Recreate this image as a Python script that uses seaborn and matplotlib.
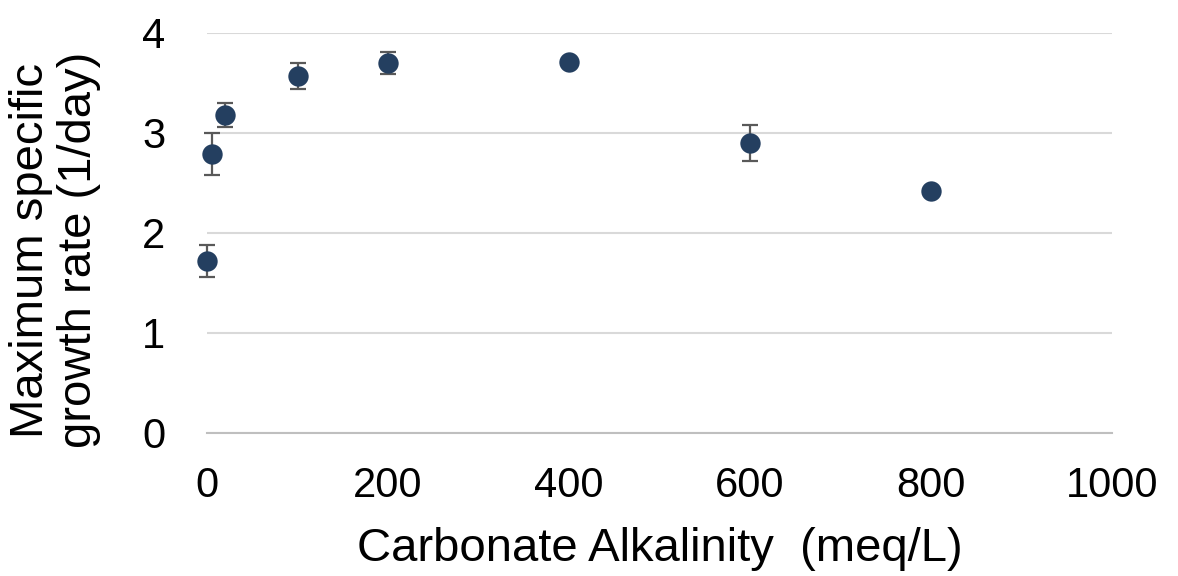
import matplotlib
matplotlib.use("Agg")
import matplotlib.pyplot as plt
import seaborn as sns
import pandas as pd

# Data
alkalinity = [0, 5, 20, 100, 200, 400, 600, 800]
growth_rate = [1.72, 2.79, 3.18, 3.57, 3.70, 3.71, 2.90, 2.42]
growth_err = [0.16, 0.21, 0.12, 0.13, 0.11, 0.0, 0.18, 0.0]
x_ticks = [0, 200, 400, 600, 800, 1000]
y_ticks = [0, 1, 2, 3, 4]
x_label = "Carbonate Alkalinity  (meq/L)"
y_label = "Maximum specific\ngrowth rate (1/day)"

df = pd.DataFrame({"x": alkalinity, "y": growth_rate, "err": growth_err})

sns.set_theme(style="white")
plt.rcParams["font.family"] = ["Liberation Sans", "DejaVu Sans"]
plt.rcParams["text.color"] = "black"

fig = plt.figure(figsize=(11.78, 5.76), dpi=100)
ax = fig.add_axes([207 / 1178, 1 - 433 / 576, (1112 - 207) / 1178, 400 / 576])

# error bars
ax.errorbar(df["x"], df["y"], yerr=df["err"], fmt="none", ecolor="#595959",
            elinewidth=1.6, capsize=5.5, capthick=1.6, zorder=2, clip_on=False)

sns.scatterplot(data=df, x="x", y="y", ax=ax, s=215, color="#243F60",
                edgecolor="#243F60", linewidth=0, zorder=3, clip_on=False)

ax.set_xlim(0, 1000)
ax.set_ylim(0, 4)
ax.set_xticks(x_ticks)
ax.set_yticks(y_ticks)
ax.set_xticklabels([str(t) for t in x_ticks])
ax.set_yticklabels([str(t) for t in y_ticks])
ax.tick_params(axis="both", length=0, labelsize=30, colors="black",
               labelcolor="black")
ax.tick_params(axis="x", pad=24)
ax.tick_params(axis="y", pad=30)

ax.yaxis.grid(True, color="#d9d9d9", linewidth=1.5)
ax.xaxis.grid(False)
ax.set_axisbelow(True)
for s in ["top", "right", "left"]:
    ax.spines[s].set_visible(False)
ax.spines["bottom"].set_color("#bfbfbf")
ax.spines["bottom"].set_linewidth(1.5)

ax.set_xlabel("")
ax.set_ylabel("")
fig.text(660 / 1178, 1 - 561 / 576, x_label, ha="center", va="baseline",
         fontsize=34, color="black")
fig.text(55 / 1178, 1 - 250 / 576, y_label, ha="center", va="center",
         rotation=90, fontsize=34, linespacing=1.1, multialignment="center",
         color="black")

fig.savefig("out.png", dpi=100)
